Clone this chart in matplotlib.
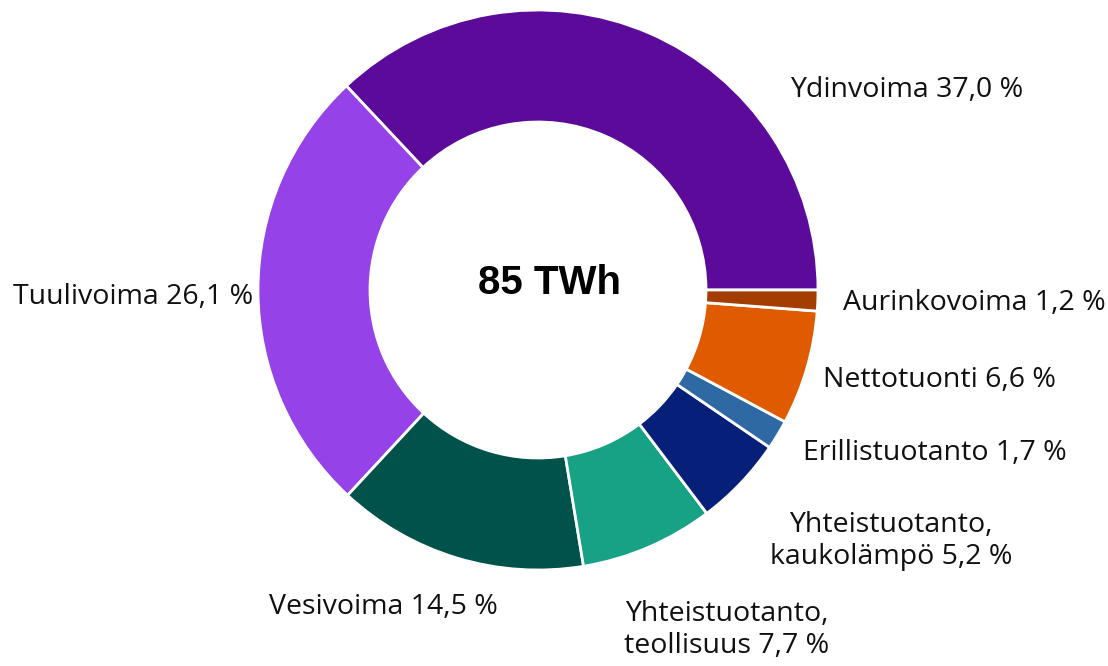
import matplotlib
matplotlib.use("Agg")
import matplotlib.pyplot as plt

# Sähkön hankinta energialähteittäin
labels = ["Ydinvoima", "Tuulivoima", "Vesivoima", "Yhteistuotanto,\nteollisuus",
          "Yhteistuotanto,\nkaukolämpö", "Erillistuotanto", "Nettotuonti", "Aurinkovoima"]
shares = [37.0, 26.1, 14.5, 7.7, 5.2, 1.7, 6.6, 1.2]
colors = ["#5B0A9A", "#9543E8", "#00524B", "#17A185",
          "#06207A", "#2E69A3", "#E05A00", "#A33E00"]
total_text = "85 TWh"

# label anchor points in pixel coords (x, y from top) and alignment
label_pos = [(790, 90, "left"), (253, 297, "right"), (498, 607, "right"), (727, 630, "center"),
             (891, 541, "center"), (803, 453, "left"), (823, 380, "left"), (843, 303, "left")]

W, H = 1108, 666
plt.rcParams['font.family'] = ['Open Sans', 'DejaVu Sans']

fig = plt.figure(figsize=(W / 100, H / 100), dpi=100)
ax = fig.add_axes([0, 0, 1, 1])

cx, cy, r = 538, H - 290, 280
ax.pie(shares, colors=colors, startangle=0, counterclock=True, center=(cx, cy), radius=r,
       wedgeprops=dict(width=r * 0.4, edgecolor="white", linewidth=2), frame=True)
ax.set_xlim(0, W)
ax.set_ylim(0, H)
ax.set_aspect("equal")
ax.axis("off")

for lab, val, (x, y, ha) in zip(labels, shares, label_pos):
    txt = lab + " " + ("%.1f" % val).replace(".", ",") + " %"
    ax.text(x, H - y, txt, ha=ha, va="center", fontsize=20.5, color="#111111",
            multialignment="center", linespacing=1.2)

ax.text(549, H - 283, total_text, ha="center", va="center", fontsize=29, fontweight="bold",
        family=["Liberation Sans", "DejaVu Sans"])

fig.savefig("out.png", dpi=100)
